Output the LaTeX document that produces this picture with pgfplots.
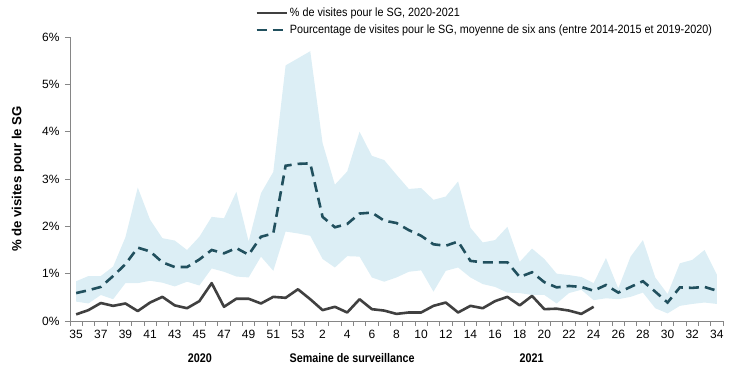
\documentclass[border=0pt]{standalone}
\usepackage{pgfplots}
\pgfplotsset{compat=1.18}
\usepackage{pgfplotstable}
\usepgfplotslibrary{fillbetween}
\usepackage{fontspec}
\setmainfont{Liberation Sans}
\newfontfamily\condfont{Liberation Sans}[FakeStretch=0.86]
\newfontfamily\legfont{Liberation Sans}[FakeStretch=0.9]
\definecolor{bandc}{RGB}{220,238,245}
\definecolor{meanc}{RGB}{33,80,94}
\definecolor{curc}{RGB}{64,64,64}
\definecolor{axc}{RGB}{134,134,134}
\newcommand{\fsz}{\fontsize{12bp}{14bp}\selectfont}
\newcommand{\legsz}{\legfont\fontsize{12bp}{14bp}\selectfont}
\newcommand{\botsz}{\condfont\bfseries\fontsize{12.5bp}{15bp}\selectfont}
\pgfplotstableread{
i mean up lo
0 0.59 0.84 0.41
1 0.65 0.95 0.37
2 0.72 0.95 0.55
3 0.95 1.15 0.46
4 1.20 1.77 0.80
5 1.55 2.82 0.80
6 1.47 2.14 0.85
7 1.24 1.75 0.81
8 1.14 1.70 0.73
9 1.14 1.50 0.83
10 1.30 1.78 0.75
11 1.50 2.20 1.11
12 1.43 2.17 1.04
13 1.54 2.73 0.94
14 1.40 1.68 0.92
15 1.78 2.70 1.36
16 1.85 3.15 1.06
17 3.28 5.40 1.89
18 3.32 5.55 1.85
19 3.33 5.70 1.80
20 2.20 3.76 1.31
21 1.98 2.88 1.13
22 2.05 3.16 1.37
23 2.27 4.00 1.36
24 2.29 3.49 0.92
25 2.12 3.40 0.83
26 2.07 3.09 0.92
27 1.92 2.79 1.04
28 1.80 2.81 1.07
29 1.62 2.56 0.62
30 1.59 2.63 1.06
31 1.68 2.95 1.13
32 1.27 1.97 0.92
33 1.24 1.66 0.78
34 1.24 1.71 0.72
35 1.24 1.99 0.60
36 0.93 1.25 0.59
37 1.03 1.53 0.55
38 0.82 1.31 0.55
39 0.71 1.00 0.37
40 0.74 0.97 0.59
41 0.72 0.93 0.66
42 0.64 0.80 0.44
43 0.76 1.33 0.48
44 0.60 0.69 0.46
45 0.72 1.36 0.51
46 0.84 1.71 0.60
47 0.62 0.92 0.27
48 0.39 0.57 0.16
49 0.71 1.22 0.32
50 0.70 1.29 0.36
51 0.72 1.50 0.39
52 0.64 0.98 0.36
}\bandtable
\pgfplotstableread{
i val
0 0.14
1 0.23
2 0.38
3 0.32
4 0.37
5 0.21
6 0.39
7 0.51
8 0.33
9 0.27
10 0.42
11 0.80
12 0.30
13 0.47
14 0.47
15 0.37
16 0.51
17 0.49
18 0.67
19 0.46
20 0.23
21 0.30
22 0.18
23 0.46
24 0.25
25 0.22
26 0.15
27 0.18
28 0.18
29 0.32
30 0.39
31 0.18
32 0.32
33 0.27
34 0.42
35 0.51
36 0.33
37 0.53
38 0.25
39 0.26
40 0.22
41 0.15
42 0.30
}\curtable
\begin{document}
\begin{tikzpicture}[font=\fsz]
\begin{axis}[
  scale only axis,
  width=653bp, height=284bp,
  xmin=-0.5, xmax=52.5,
  ymin=0, ymax=6,
  axis x line*=bottom, axis y line*=left,
  axis line style={-, draw=axc, line width=0.8bp},
  tick align=outside,
  xtick={0,2,...,52},
  xticklabels={35,37,39,41,43,45,47,49,51,53,2,4,6,8,10,12,14,16,18,20,22,24,26,28,30,32,34},
  minor xtick={-0.5,0.5,...,52.5},
  major x tick style={draw=none},
  minor x tick style={draw=axc, line width=0.8bp},
  minor tick length=5bp,
  ytick={0,1,...,6},
  yticklabels={0\%,1\%,2\%,3\%,4\%,5\%,6\%},
  major tick length=5bp,
  y tick style={draw=axc, line width=0.8bp},
  tick label style={font=\fsz, text=black},
  xticklabel style={yshift=-1bp},
  yticklabel style={xshift=-2bp},
  ylabel={\bfseries \% de visites pour le SG},
  ylabel style={at={(axis description cs:-0.0796,0.5)}, anchor=center, font=\fontsize{13.2bp}{15bp}\selectfont},
  legend style={at={(axis description cs:0.282,1.113)}, anchor=north west, draw=none, fill=none, font=\legsz, row sep=2.5bp, inner sep=1bp,
    /tikz/every even column/.append style={column sep=7bp}},
  legend cell align=left,
  legend image code/.code={\draw[#1] (0bp,0bp) -- (30bp,0bp);},
  clip=false,
]
\addplot[name path=up, draw=none, forget plot] table[x=i, y=up] {\bandtable};
\addplot[name path=lo, draw=none, forget plot] table[x=i, y=lo] {\bandtable};
\addplot[fill=bandc, draw=none, forget plot] fill between[of=up and lo];
\addplot[curc, line width=2.6bp, line join=round] table[x=i, y=val] {\curtable};
\addlegendentry{\% de visites pour le SG, 2020-2021}
\addplot[meanc, line width=2.6bp, dash pattern=on 10bp off 6bp] table[x=i, y=mean] {\bandtable};
\addlegendentry{Pourcentage de visites pour le SG, moyenne de six ans (entre 2014-2015 et 2019-2020)}
\coordinate (SW) at (rel axis cs:0,0);
\node[font=\botsz] at (axis description cs:0.199,-0.130) {2020};
\node[font=\botsz] at (axis description cs:0.432,-0.130) {Semaine de surveillance};
\node[font=\botsz] at (axis description cs:0.707,-0.130) {2021};
\end{axis}
\pgfresetboundingbox
\path (SW) ++(-70bp,-57bp) rectangle ++(750bp,378bp);
\end{tikzpicture}
\end{document}
